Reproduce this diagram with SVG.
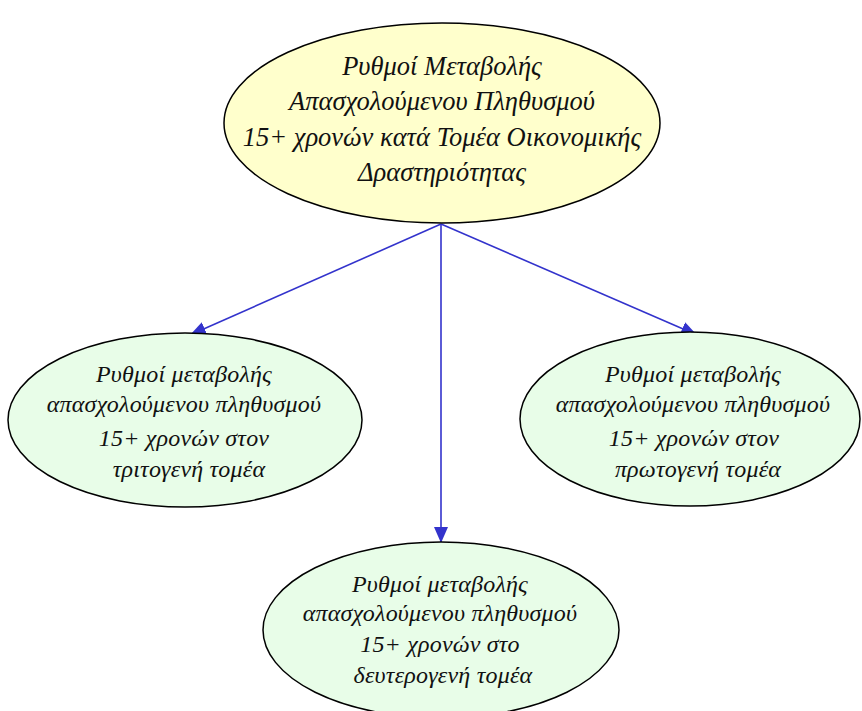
<svg xmlns="http://www.w3.org/2000/svg" width="862" height="711" viewBox="0 0 862 711">
<defs>
<style>
.node ellipse{stroke:#000;stroke-width:1.5}
.top ellipse{fill:#ffffcc}
.sub ellipse{fill:#e8fde8}
text{font-family:"Liberation Serif","DejaVu Serif",serif;font-style:italic;fill:#111;text-anchor:middle}
.top text{font-size:26.5px}
.sub text{font-size:24px;letter-spacing:0.2px}
.conn line{stroke:#3333cc;stroke-width:1.6;fill:none}
</style>
<marker id="arrow" viewBox="0 0 16 14" refX="16" refY="7" markerWidth="16" markerHeight="14" markerUnits="userSpaceOnUse" orient="auto">
<path d="M0,0 L16,7 L0,14 z" fill="#3333cc"/>
</marker>
</defs>
<rect width="862" height="711" fill="#fff"/>
<g id="connectors" class="conn">
<line x1="441" y1="224" x2="190" y2="335" marker-end="url(#arrow)"/>
<line x1="441" y1="224" x2="697" y2="335" marker-end="url(#arrow)"/>
<line x1="441" y1="224" x2="441" y2="543" marker-end="url(#arrow)"/>
</g>
<g id="node-main" class="node top">
<ellipse cx="442" cy="123" rx="218" ry="100"/>
<text x="442" y="75">Ρυθμοί Μεταβολής</text>
<text x="442" y="110">Απασχολούμενου Πληθυσμού</text>
<text x="442" y="146">15+ χρονών κατά Τομέα Οικονομικής</text>
<text x="442" y="181">Δραστηριότητας</text>
</g>
<g id="node-tertiary" class="node sub">
<ellipse cx="185" cy="420" rx="177" ry="87"/>
<text x="184" y="382">Ρυθμοί μεταβολής</text>
<text x="184" y="412">απασχολούμενου πληθυσμού</text>
<text x="184" y="446">15+ χρονών στον</text>
<text x="189" y="477">τριτογενή τομέα</text>
</g>
<g id="node-primary" class="node sub">
<ellipse cx="690" cy="419" rx="170" ry="87"/>
<text x="693" y="382">Ρυθμοί μεταβολής</text>
<text x="693" y="412">απασχολούμενου πληθυσμού</text>
<text x="694" y="446">15+ χρονών στον</text>
<text x="698" y="477">πρωτογενή τομέα</text>
</g>
<g id="node-secondary" class="node sub">
<ellipse cx="441" cy="630" rx="178" ry="88"/>
<text x="440" y="592">Ρυθμοί μεταβολής</text>
<text x="440" y="621">απασχολούμενου πληθυσμού</text>
<text x="440" y="652">15+ χρονών στο</text>
<text x="443" y="683">δευτερογενή τομέα</text>
</g>
</svg>
